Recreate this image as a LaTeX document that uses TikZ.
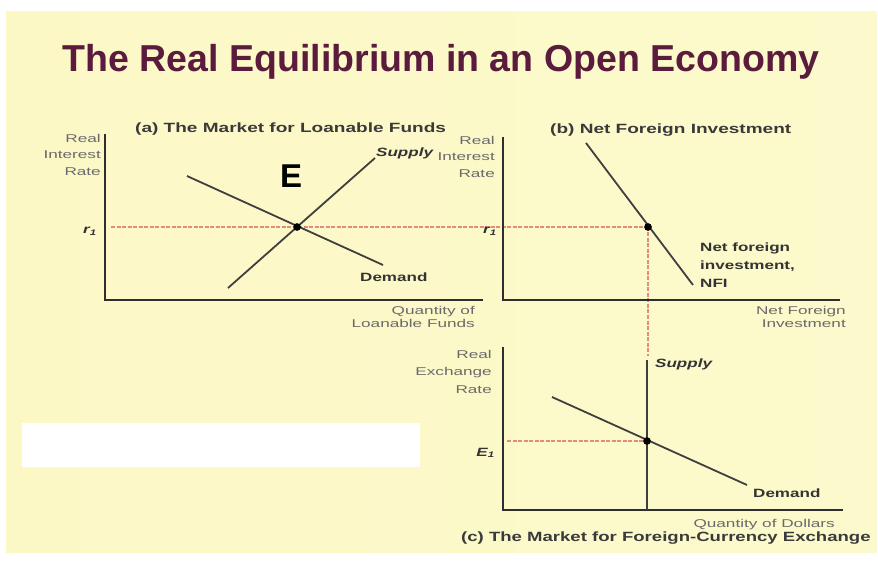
\documentclass[tikz,border=0pt]{standalone}
\usepackage{fontspec}
\setmainfont{Liberation Sans}
\usepackage{graphicx}
\definecolor{bgL}{HTML}{FCF8C6}
\definecolor{bgM}{HTML}{FFFEE6}
\definecolor{bgR}{HTML}{FCF9CC}
\definecolor{titlecol}{HTML}{5A1B3C}
\definecolor{axiscol}{HTML}{2E2E2E}
\definecolor{curvecol}{HTML}{3F3F3F}
\definecolor{guidecol}{HTML}{E58A80}
\definecolor{ptitlecol}{HTML}{3A3A3A}
\definecolor{blblcol}{HTML}{333333}
\definecolor{glblcol}{HTML}{6A6A6A}
\newcommand\wide[1]{\scalebox{1.42}[1]{#1}}
\newcommand\gwide[1]{\scalebox{1.52}[1]{#1}}
\begin{document}
\begin{tikzpicture}[x=1pt,y=-1pt,
  axis/.style={draw=axiscol, line width=2.4pt, line join=miter},
  curve/.style={draw=curvecol, line width=1.8pt},
  guide/.style={draw=guidecol, line width=1.1pt, dash pattern=on 4pt off 1.5pt},
  dot/.style={circle, fill=black, inner sep=0pt, minimum size=7pt},
  ptitle/.style={font=\fontsize{13.4}{16}\selectfont\bfseries, text=ptitlecol, inner sep=0pt},
  blbl/.style={font=\fontsize{12}{14}\selectfont\bfseries, text=blblcol, inner sep=0pt},
  ilbl/.style={font=\fontsize{12}{14}\selectfont\bfseries\itshape, text=blblcol, inner sep=0pt},
  glbl/.style={font=\fontsize{11.3}{13}\selectfont, text=glblcol, inner sep=0pt},
  rlbl/.style={font=\fontsize{12}{13}\selectfont\bfseries\itshape, text=blblcol, inner sep=0pt},
]
\useasboundingbox (0,0) rectangle (878,561);
\fill[white] (0,0) rectangle (878,561);
\shade[left color=bgL, middle color=bgM, right color=bgR] (6,12) rectangle (877,552);
\fill[white] (22,423) rectangle (420,467);

% title
\node[font=\fontsize{37.5}{40}\selectfont\bfseries, text=titlecol, anchor=base, inner sep=0pt] (title) at (441,72) {The Real Equilibrium in an Open Economy};

% ---------- coordinates
\coordinate (aTop) at (105,134);
\coordinate (aO) at (105,300);
\coordinate (aEnd) at (483,300);
\coordinate (aS1) at (228,288);
\coordinate (aS2) at (375,158);
\coordinate (aD1) at (187,176);
\coordinate (aD2) at (383,265);
\coordinate (aR) at (111,227);
\coordinate (bTop) at (503,137);
\coordinate (bO) at (503,300);
\coordinate (bEnd) at (840,300);
\coordinate (bN1) at (586,143);
\coordinate (bN2) at (693,285);
\coordinate (cTop) at (503,347);
\coordinate (cO) at (503,510);
\coordinate (cEnd) at (843,510);
\coordinate (cS1) at (647,360);
\coordinate (cS2) at (647,510);
\coordinate (cD1) at (552,397);
\coordinate (cD2) at (747,485);
\coordinate (cE) at (507,441);
\coordinate (vEnd) at (648,356);

\node[dot] (eqA) at (297,227) {};
\node[dot] (eqB) at (648,227) {};
\node[dot] (eqC) at (647,441) {};

\draw[guide] (aR) -- (eqB.center);
\draw[guide] (eqB.center) -- (vEnd);
\draw[guide] (cE) -- (eqC.center);

\draw[axis] (aTop) -- (aO) -- (aEnd);
\draw[axis] (bTop) -- (bO) -- (bEnd);
\draw[axis] (cTop) -- (cO) -- (cEnd);

\draw[curve] (aS1) -- (aS2);
\draw[curve] (aD1) -- (aD2);
\draw[curve] (bN1) -- (bN2);
\draw[curve] (cS1) -- (cS2);
\draw[curve] (cD1) -- (cD2);

\fill[black] (eqA) circle (3.8pt);
\fill[black] (eqB) circle (3.8pt);
\fill[black] (eqC) circle (3.8pt);

% labels (a)
\node[ptitle, anchor=base west] (ta) at (135,133) {\wide{(a) The Market for Loanable Funds}};
\node[glbl, anchor=base east] (ya1) at (101,143) {\gwide{Real}};
\node[glbl, anchor=base east] (ya2) at (101,159) {\gwide{Interest}};
\node[glbl, anchor=base east] (ya3) at (101,176) {\gwide{Rate}};
\node[rlbl, anchor=base east] (ra) at (97,234) {\wide{\textit{r}\textsubscript{1}}};
\node[ilbl, anchor=base west] (sa) at (376,157) {\wide{Supply}};
\node[blbl, anchor=base west] (da) at (360,282) {\wide{Demand}};
\node[glbl, anchor=base east] (xa1) at (475,315) {\gwide{Quantity of}};
\node[glbl, anchor=base east] (xa2) at (475,327) {\gwide{Loanable Funds}};
\node[font=\fontsize{33}{36}\selectfont\bfseries, anchor=base west, inner sep=0pt] (Elbl) at (280,188) {E};

% labels (b)
\node[ptitle, anchor=base west] (tb) at (550,134) {\wide{(b) Net Foreign Investment}};
\node[glbl, anchor=base east] (yb1) at (495,145) {\gwide{Real}};
\node[glbl, anchor=base east] (yb2) at (495,161) {\gwide{Interest}};
\node[glbl, anchor=base east] (yb3) at (495,178) {\gwide{Rate}};
\node[rlbl, anchor=base east] (rb) at (497,234) {\wide{\textit{r}\textsubscript{1}}};
\node[blbl, anchor=base west] (nb1) at (700,252) {\wide{Net foreign}};
\node[blbl, anchor=base west] (nb2) at (700,270) {\wide{investment,}};
\node[blbl, anchor=base west] (nb3) at (700,288) {\wide{NFI}};
\node[glbl, anchor=base east] (xb1) at (846,315) {\gwide{Net Foreign}};
\node[glbl, anchor=base east] (xb2) at (846,327) {\gwide{Investment}};

% labels (c)
\node[glbl, anchor=base east] (yc1) at (492,358) {\gwide{Real}};
\node[glbl, anchor=base east] (yc2) at (492,375) {\gwide{Exchange}};
\node[glbl, anchor=base east] (yc3) at (492,393) {\gwide{Rate}};
\node[rlbl, anchor=base east] (Ec) at (495,456) {\wide{\textit{E}\textsubscript{1}}};
\node[ilbl, anchor=base west] (sc) at (655,367) {\wide{Supply}};
\node[blbl, anchor=base west] (dc) at (753,497) {\wide{Demand}};
\node[glbl, anchor=base east] (xc) at (835,527) {\gwide{Quantity of Dollars}};
\node[ptitle, anchor=base west] (tc) at (461,541) {\scalebox{1.385}[1]{(c) The Market for Foreign-Currency Exchange}};
\end{tikzpicture}
\end{document}
